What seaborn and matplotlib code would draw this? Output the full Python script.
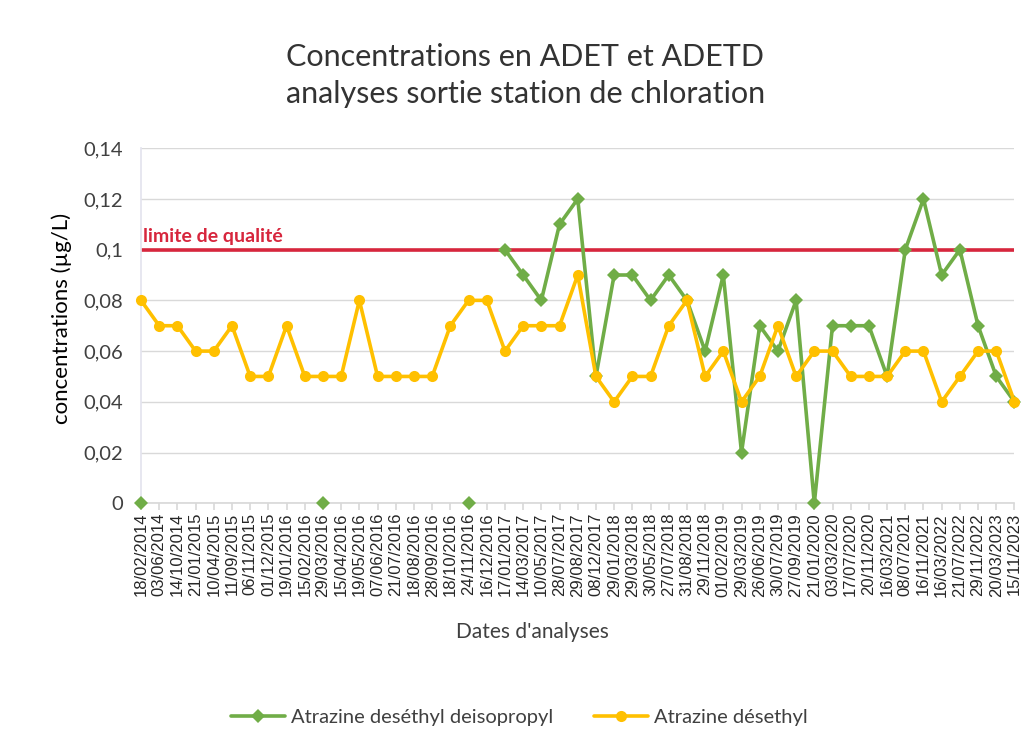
import numpy as np
import pandas as pd
import matplotlib
matplotlib.use("Agg")
import matplotlib.pyplot as plt
import seaborn as sns
from matplotlib.lines import Line2D

dates = ["18/02/2014", "03/06/2014", "14/10/2014", "21/01/2015", "10/04/2015", "11/09/2015",
         "06/11/2015", "01/12/2015", "19/01/2016", "15/02/2016", "29/03/2016", "15/04/2016",
         "19/05/2016", "07/06/2016", "21/07/2016", "18/08/2016", "28/09/2016", "18/10/2016",
         "24/11/2016", "16/12/2016", "17/01/2017", "14/03/2017", "10/05/2017", "28/07/2017",
         "29/08/2017", "08/12/2017", "29/01/2018", "29/03/2018", "30/05/2018", "27/07/2018",
         "31/08/2018", "29/11/2018", "01/02/2019", "29/03/2019", "26/06/2019", "30/07/2019",
         "27/09/2019", "21/01/2020", "03/03/2020", "17/07/2020", "20/11/2020", "16/03/2021",
         "08/07/2021", "16/11/2021", "16/03/2022", "21/07/2022", "29/11/2022", "20/03/2023",
         "15/11/2023"]

nan = np.nan
adetd = [0.0, nan, nan, nan, nan, nan, nan, nan, nan, nan,
         0.0, nan, nan, nan, nan, nan, nan, nan, 0.0, nan,
         0.10, 0.09, 0.08, 0.11, 0.12, 0.05, 0.09, 0.09, 0.08, 0.09,
         0.08, 0.06, 0.09, 0.02, 0.07, 0.06, 0.08, 0.0, 0.07, 0.07,
         0.07, 0.05, 0.10, 0.12, 0.09, 0.10, 0.07, 0.05, 0.04]
adet = [0.08, 0.07, 0.07, 0.06, 0.06, 0.07, 0.05, 0.05, 0.07, 0.05,
        0.05, 0.05, 0.08, 0.05, 0.05, 0.05, 0.05, 0.07, 0.08, 0.08,
        0.06, 0.07, 0.07, 0.07, 0.09, 0.05, 0.04, 0.05, 0.05, 0.07,
        0.08, 0.05, 0.06, 0.04, 0.05, 0.07, 0.05, 0.06, 0.06, 0.05,
        0.05, 0.05, 0.06, 0.06, 0.04, 0.05, 0.06, 0.06, 0.04]
limite = 0.10
ytick_vals = [0, 0.02, 0.04, 0.06, 0.08, 0.10, 0.12, 0.14]
ytick_labels = ["0", "0,02", "0,04", "0,06", "0,08", "0,1", "0,12", "0,14"]

series_names = ["Atrazine deséthyl deisopropyl", "Atrazine désethyl"]
green = "#70ad47"
orange = "#ffc000"
red = "#d7263d"

sns.set_theme(style="white")
plt.rcParams["font.family"] = ["Lato", "DejaVu Sans"]

fig = plt.figure(figsize=(10.24, 7.5), dpi=100)
ax = fig.add_axes([0.1377, 0.329, 0.853, 0.4734])

idx = np.arange(len(dates))

# green: split into segments at missing values
g = pd.DataFrame({"x": idx, "y": adetd})
g["seg"] = g["y"].isna().cumsum()
g = g.dropna()
sns.lineplot(data=g, x="x", y="y", units="seg", estimator=None, sort=False,
             color=green, lw=2.6, marker="D", markersize=7, markeredgewidth=0,
             ax=ax, legend=False, zorder=3, clip_on=False)

o = pd.DataFrame({"x": idx, "y": adet})
sns.lineplot(data=o, x="x", y="y", color=orange, lw=2.6, marker="o",
             markersize=8, markeredgewidth=0, ax=ax, legend=False, zorder=4,
             clip_on=False)

ax.axhline(limite, color=red, lw=2.6, zorder=2)
ax.text(0.1, limite + 0.0017, "limite de qualité", color=red, fontsize=14,
        fontweight="bold", family=["Lato", "DejaVu Sans"], va="bottom", ha="left")

ax.set_xlim(0, len(dates) - 1)
ax.set_ylim(0, 0.14)
ax.set_yticks(ytick_vals)
ax.set_yticklabels(ytick_labels, fontsize=14.5, color="#404040")
ax.set_xticks(idx)
ax.set_xticklabels(dates, rotation=90, fontsize=12, color="#262626",
                   family=["Liberation Sans", "DejaVu Sans"])
ax.tick_params(axis="x", length=5, color="#d9d9d9", pad=2, bottom=True)
ax.tick_params(axis="y", length=0, pad=13)
ax.yaxis.grid(True, color="#d9d9d9", lw=1)
ax.set_axisbelow(True)
for s in ["top", "right"]:
    ax.spines[s].set_visible(False)
ax.spines["bottom"].set_color("#d9d9d9")
ax.spines["left"].set_color("#e4e4ee")

ax.set_xlabel("")
ax.set_ylabel("concentrations (µg/L)", fontsize=16, color="#000000")
ax.yaxis.set_label_coords(-0.079, 0.52)

fig.text(532 / 1024, 1 - 632 / 750, "Dates d'analyses", ha="center", va="center",
         fontsize=15, color="#404040")

fig.text(0.513, 0.899, "Concentrations en ADET et ADETD\nanalyses sortie station de chloration",
         ha="center", va="center", fontsize=22, color="#333333", linespacing=1.4)

handles = [Line2D([], [], color=green, lw=2.6, marker="D", markersize=7, markeredgewidth=0),
           Line2D([], [], color=orange, lw=2.6, marker="o", markersize=8, markeredgewidth=0)]
fig.legend(handles, series_names, loc="center", bbox_to_anchor=(0.507, 0.043), ncol=2,
           frameon=False, handlelength=2.7, handletextpad=0.3, columnspacing=2.0,
           prop={"family": ["Lato", "DejaVu Sans"], "size": 14.5}, labelcolor="#404040")

fig.savefig("out.png", dpi=100)
